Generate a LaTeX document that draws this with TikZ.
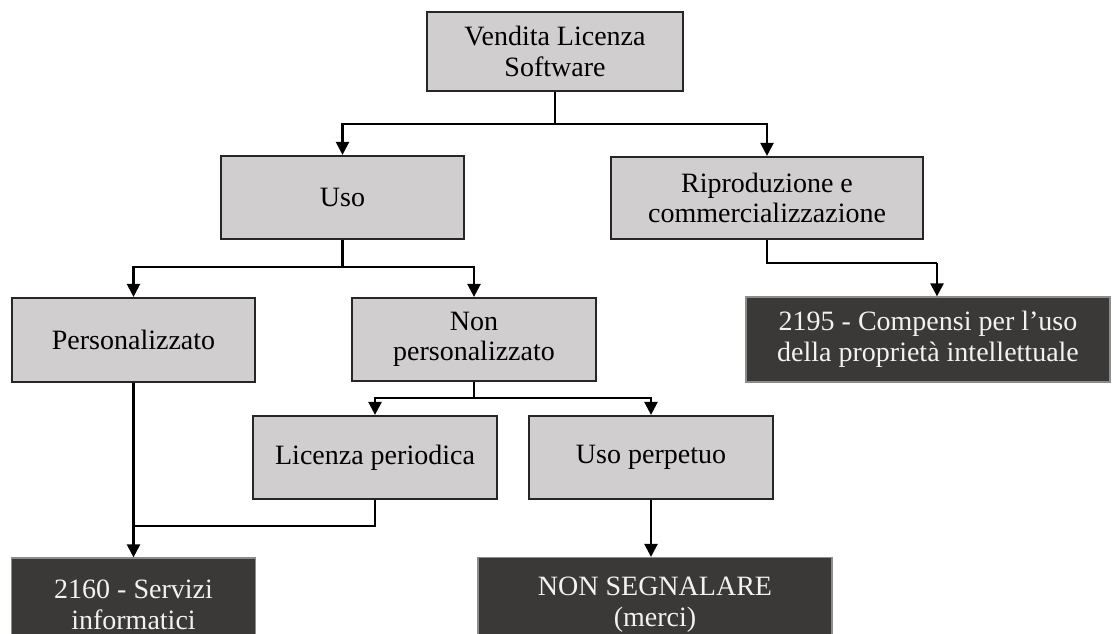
\documentclass[tikz,border=0pt]{standalone}
\usepackage{fontspec}
\setmainfont{Liberation Serif}
\usetikzlibrary{arrows.meta}
\definecolor{boxgray}{RGB}{209,206,208}
\definecolor{boxdark}{RGB}{59,57,55}
\definecolor{edgedark}{RGB}{38,38,38}
\definecolor{edgelight}{RGB}{140,140,140}
\definecolor{txtlight}{RGB}{242,242,242}
\tikzset{
  base/.style={rectangle, inner sep=0pt, align=center,
    font=\fontsize{28}{30.5}\selectfont},
  graybox/.style={base, fill=boxgray, draw=edgedark, line width=2.2pt},
  darkbox/.style={base, fill=boxdark, draw=edgelight, line width=1.2pt, text=txtlight},
  conn/.style={draw=black, line width=2.3pt},
  arr/.style={conn, -{Triangle[length=13pt,width=13pt]}}
}
\begin{document}
\begin{tikzpicture}[x=1pt,y=-1pt]
\clip (0,0) rectangle (1113,634);
\fill[white] (0,0) rectangle (1113,634);

\node[graybox, minimum width=256pt, minimum height=79pt] (top) at (555,51.5) {Vendita Licenza\\Software};
\node[graybox, minimum width=243pt, minimum height=83pt] (uso) at (342.5,197.5) {Uso};
\node[graybox, minimum width=312pt, minimum height=82pt] (rip) at (767,198) {Riproduzione e\\commercializzazione};
\node[darkbox, minimum width=364pt, minimum height=85pt] (c2195) at (928,339.5) {2195 - Compensi per l’uso\\della proprietà intellettuale};
\node[graybox, minimum width=243pt, minimum height=84pt] (pers) at (133.5,340) {Personalizzato};
\node[graybox, minimum width=244pt, minimum height=83pt] (nonp) at (474,339.5) {Non\\personalizzato};
\node[graybox, minimum width=244pt, minimum height=83pt] (lic) at (375,457.5) {Licenza periodica};
\node[graybox, minimum width=244pt, minimum height=83pt] (perp) at (651,457.5) {Uso perpetuo};
\node[darkbox, minimum width=244pt, minimum height=94pt] (c2160) at (133.5,605) {2160 - Servizi\\informatici};
\node[darkbox, minimum width=354pt, minimum height=94pt] (nonseg) at (655,604.5) {NON SEGNALARE\\(merci)};

\coordinate (j1) at (555,124);
\coordinate (j2) at (342.5,267);
\coordinate (j3) at (937,263);
\coordinate (j4) at (474,398);
\coordinate (j5) at (133.5,526);

\draw[conn] (top.south) -- (j1);
\draw[arr] (j1) -| (uso.north);
\draw[arr] (j1) -| (rip.north);

\draw[conn] (uso.south) -- (j2);
\draw[arr] (j2) -| (pers.north);
\draw[arr] (j2) -| (nonp.north);

\draw[conn] (rip.south) |- (j3);
\draw[arr] (j3) -- (j3 |- c2195.north);

\draw[conn] (nonp.south) -- (j4);
\draw[arr] (j4) -| (lic.north);
\draw[arr] (j4) -| (perp.north);

\draw[arr] (pers.south) -- (c2160.north);
\draw[conn] (lic.south) |- (j5);

\draw[arr] (perp.south) -- (perp.south |- nonseg.north);
\end{tikzpicture}
\end{document}
